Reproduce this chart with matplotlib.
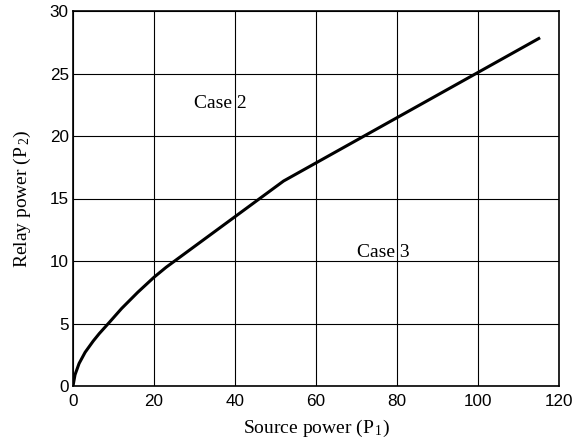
import matplotlib
matplotlib.use("Agg")
import matplotlib.pyplot as plt

p1 = [0, 0.5, 1.5, 3, 5, 6.5, 9, 12, 16, 20, 23, 52, 115]
p2 = [0, 0.9, 1.8, 2.7, 3.6, 4.2, 5.1, 6.2, 7.5, 8.7, 9.5, 16.4, 27.8]
xticks = [0, 20, 40, 60, 80, 100, 120]
yticks = [0, 5, 10, 15, 20, 25, 30]
annotations = [("Case 2", 36.5, 22.6), ("Case 3", 76.5, 10.7)]

plt.rcParams['mathtext.fontset'] = 'custom'
plt.rcParams['mathtext.rm'] = 'Liberation Serif'
plt.rcParams['mathtext.it'] = 'Liberation Serif'

fig = plt.figure(figsize=(5.74, 4.45), dpi=100)
ax = fig.add_axes([73/574, (445-386)/445, (559-73)/574, (386-11)/445])
ax.plot(p1, p2, color='black', lw=2.2, solid_joinstyle='round')
ax.set_xlim(0, 120)
ax.set_ylim(0, 30)
ax.set_xticks(xticks)
ax.set_yticks(yticks)
ax.grid(True, color='black', lw=0.8)
for lbl in ax.get_xticklabels() + ax.get_yticklabels():
    lbl.set_fontfamily('Liberation Sans')
    lbl.set_fontsize(12.3)
ax.tick_params(axis='x', direction='in', length=0, pad=6)
ax.tick_params(axis='y', direction='in', length=0, pad=3)
for s in ax.spines.values():
    s.set_linewidth(1.2)
ax.set_xlabel(r'Source power (P$_{\,1}$)', fontfamily='Liberation Serif', fontsize=14, labelpad=6)
ax.set_ylabel(r'Relay power (P$_{\,2}$)', fontfamily='Liberation Serif', fontsize=14, labelpad=12)
for t, x, y in annotations:
    ax.text(x, y, t, fontfamily='Liberation Serif', fontsize=14, ha='center', va='center')
fig.savefig('out.png', dpi=100)
